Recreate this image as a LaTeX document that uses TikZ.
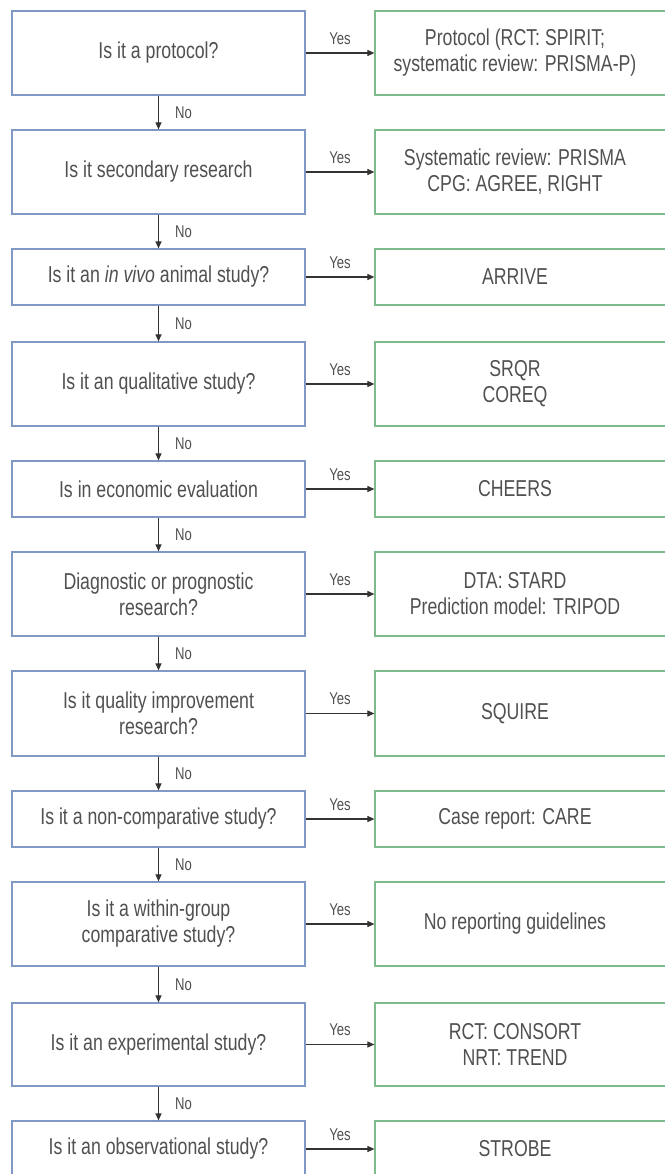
\documentclass[tikz,border=0pt]{standalone}
\usepackage{fontspec}
\setmainfont{Liberation Sans}[FakeStretch=0.77]
\usetikzlibrary{arrows.meta}
\definecolor{qblue}{HTML}{7F99C4}
\definecolor{agreen}{HTML}{7FBA8C}
\definecolor{txtgray}{HTML}{505050}
\definecolor{arrgray}{HTML}{333333}
% answer text, nudged left inside the wider answer box
\newcommand\anstext[1]{\makebox[280pt][l]{\parbox{260pt}{\centering #1}}}
\begin{document}
\begin{tikzpicture}[x=1pt,y=1pt,
  qbox/.style={draw=qblue, line width=1.2pt, minimum width=293pt, inner sep=0pt,
    align=center, text=txtgray, font=\fontsize{23}{26}\selectfont},
  abox/.style={draw=agreen, line width=1.2pt, minimum width=300pt, inner sep=0pt,
    text=txtgray, font=\fontsize{23}{26}\selectfont},
  flow/.style={draw=arrgray, line width=1.1pt, -{Triangle[length=7pt,width=6pt]}},
  lab/.style={text=txtgray, font=\fontsize{17}{19}\selectfont, inner sep=0pt}
]
\useasboundingbox (0,0) rectangle (664,-1174);

% questions (left column)
\node[qbox, minimum height=84pt] (q1)  at (158.5,-53)    {Is it a protocol?};
\node[qbox, minimum height=84pt] (q2)  at (158.5,-172)   {Is it secondary research};
\node[qbox, minimum height=56pt] (q3)  at (158.5,-277)   {Is it an \textit{in vivo} animal study?};
\node[qbox, minimum height=84pt] (q4)  at (158.5,-384)   {Is it an qualitative study?};
\node[qbox, minimum height=56pt] (q5)  at (158.5,-489)   {Is in economic evaluation};
\node[qbox, minimum height=84pt] (q6)  at (158.5,-594)   {Diagnostic or prognostic\\research?};
\node[qbox, minimum height=85pt] (q7)  at (158.5,-713.5) {Is it quality improvement\\research?};
\node[qbox, minimum height=56pt] (q8)  at (158.5,-819)   {Is it a non-comparative study?};
\node[qbox, minimum height=84pt] (q9)  at (158.5,-924)   {Is it a within-group\\comparative study?};
\node[qbox, minimum height=83pt] (q10) at (158.5,-1044.5){Is it an experimental study?};
\node[qbox, minimum height=56pt] (q11) at (158.5,-1149)  {Is it an observational study?};

% guidelines (right column)
\node[abox, minimum height=84pt] (a1)  at (525,-53)    {\anstext{Protocol (RCT: SPIRIT;\\systematic review: PRISMA-P)}};
\node[abox, minimum height=84pt] (a2)  at (525,-172)   {\anstext{Systematic review: PRISMA\\CPG: AGREE, RIGHT}};
\node[abox, minimum height=56pt] (a3)  at (525,-277)   {\anstext{ARRIVE}};
\node[abox, minimum height=84pt] (a4)  at (525,-384)   {\anstext{SRQR\\COREQ}};
\node[abox, minimum height=56pt] (a5)  at (525,-489)   {\anstext{CHEERS}};
\node[abox, minimum height=84pt] (a6)  at (525,-594)   {\anstext{DTA: STARD\\Prediction model: TRIPOD}};
\node[abox, minimum height=85pt] (a7)  at (525,-713.5) {\anstext{SQUIRE}};
\node[abox, minimum height=56pt] (a8)  at (525,-819)   {\anstext{Case report: CARE}};
\node[abox, minimum height=84pt] (a9)  at (525,-924)   {\anstext{No reporting guidelines}};
\node[abox, minimum height=83pt] (a10) at (525,-1044.5){\anstext{RCT: CONSORT\\NRT: TREND}};
\node[abox, minimum height=56pt] (a11) at (525,-1149)  {\anstext{STROBE}};

% "Yes" branches
\foreach \i in {1,...,11}
  \draw[flow] (q\i.east) -- (a\i.west) node[lab, midway, above=8pt] {Yes};

% "No" branches
\foreach \i [evaluate=\i as \j using int(\i+1)] in {1,...,10}
  \draw[flow] (q\i.south) -- (q\j.north) node[lab, midway, right=16pt] {No};
\end{tikzpicture}
\end{document}
